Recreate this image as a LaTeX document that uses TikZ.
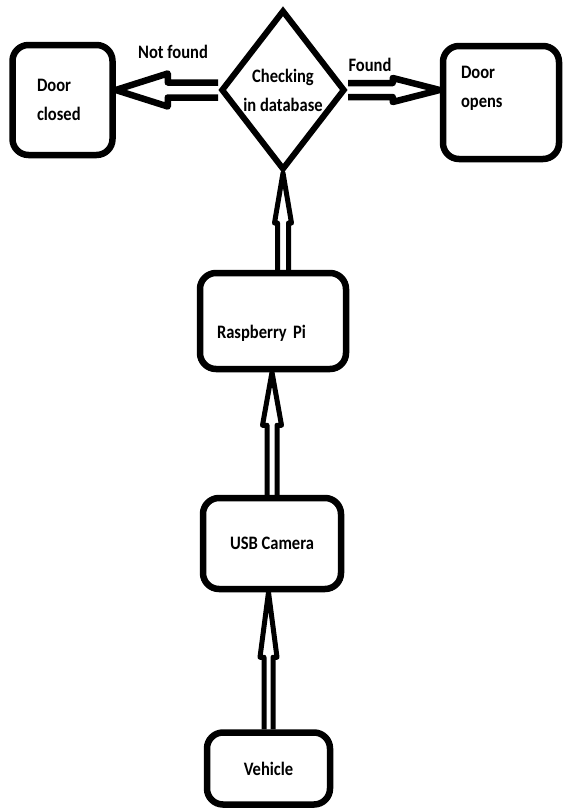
\documentclass[tikz,border=0pt]{standalone}
\usepackage{fontspec}
\setmainfont{Carlito}[FakeStretch=0.87]
\usetikzlibrary{shapes.geometric,calc}
\tikzset{
  lbl/.style={font=\fontsize{19}{29}\selectfont\bfseries},
  box/.style={draw, line width=6.5pt, rounded corners=16pt, inner sep=0pt, lbl},
  check/.style={diamond, draw, line width=6pt, inner sep=0pt, align=center, lbl}
}
% hollow double-line arrow: line width, shaft half, head half, head length, from, to
\newcommand{\hollowarrow}[6]{%
  \coordinate (hb) at ($(#6)!#4!(#5)$);
  \draw[line width=#1, line join=round] ($(#5)!#2!90:(#6)$) -- ($(hb)!#2!90:(#6)$) -- ($(hb)!#3!90:(#6)$) -- (#6) -- ($(hb)!#3!-90:(#6)$) -- ($(hb)!#2!-90:(#6)$) -- ($(#5)!#2!-90:(#6)$);
}
\begin{document}
\begin{tikzpicture}[x=1pt,y=-1pt]
\useasboundingbox (0,0) rectangle (563,809);
\node[check, minimum width=124pt, minimum height=160pt] (check) at (283,90){Checking\\in database};
\node[box, minimum width=100pt, minimum height=110pt, text width=51pt, align=left] (closed) at (62.5,100){Door\\closed};
\node[box, minimum width=116pt, minimum height=113pt, text width=80pt, align=left, text height=13pt, text depth=61pt] (opens) at (501,102.5){Door\\opens};
\node[box, minimum width=146pt, minimum height=96pt, text width=112pt, align=left, text height=40pt, text depth=5pt] (rasp) at (273,321){Raspberry Pi};
\node[box, minimum width=138pt, minimum height=91pt] (usb) at (272,543.5){USB Camera};
\node[box, minimum width=123pt, minimum height=72pt] (veh) at (268.5,768.5){Vehicle};
\node[lbl] (notfound) at (173,52){Not found};
\node[lbl] (found) at (370,65){Found};
% arrows
\coordinate (nfend) at (check.west -| closed.east);
\hollowarrow{6.5pt}{7.5pt}{16.5pt}{52pt}{check.west}{nfend}
\coordinate (fdend) at (check.east -| opens.west);
\hollowarrow{6.5pt}{7pt}{12pt}{47pt}{check.east}{fdend}
\coordinate (rpstart) at (rasp.north -| check.south);
\hollowarrow{5pt}{5.5pt}{8.5pt}{50pt}{rpstart}{check.south}
\coordinate (ucend) at (usb.north |- rasp.south);
\hollowarrow{5pt}{5pt}{9.5pt}{53pt}{usb.north}{ucend}
\coordinate (vhend) at (veh.north |- usb.south);
\hollowarrow{5pt}{4.5pt}{8.5pt}{65pt}{veh.north}{vhend}
\end{tikzpicture}
\end{document}
